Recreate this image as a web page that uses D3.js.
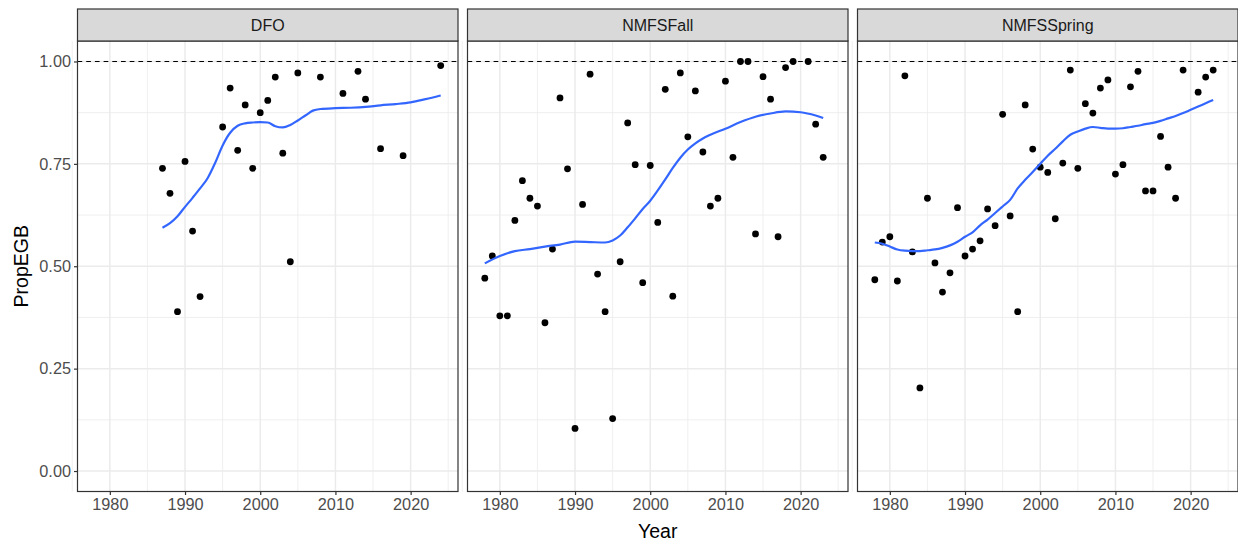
<!DOCTYPE html>
<html><head><meta charset="utf-8">
<script src="https://cdn.jsdelivr.net/npm/d3@7"></script>
<style>body{margin:0;background:#fff}svg{display:block}text{font-family:"Liberation Sans",Arial,sans-serif}</style>
</head><body>
<svg id="c" width="1238" height="544"></svg>
<script>
const panels = ["DFO", "NMFSFall", "NMFSSpring"];
const xTicks = [1980, 1990, 2000, 2010, 2020];
const yTicks = [0, 0.25, 0.5, 0.75, 1];
const yTickLabels = ["0.00", "0.25", "0.50", "0.75", "1.00"];

const dfoYears = [1987,1988,1989,1990,1991,1992,1995,1996,1997,1998,1999,2000,2001,2002,2003,2004,2005,2008,2011,2013,2014,2016,2019,2024];
const dfoValues = [0.739,0.678,0.389,0.756,0.586,0.426,0.840,0.935,0.783,0.894,0.739,0.875,0.905,0.962,0.776,0.511,0.972,0.962,0.922,0.976,0.908,0.787,0.770,0.990];

const fallYears = [1978,1979,1980,1981,1982,1983,1984,1985,1986,1987,1988,1989,1990,1991,1992,1993,1994,1995,1996,1997,1998,1999,2000,2001,2002,2003,2004,2005,2006,2007,2008,2009,2010,2011,2012,2013,2014,2015,2016,2017,2018,2019,2021,2022,2023];
const fallValues = [0.471,0.525,0.379,0.379,0.612,0.709,0.666,0.647,0.362,0.542,0.911,0.738,0.104,0.651,0.969,0.481,0.389,0.128,0.511,0.850,0.748,0.460,0.746,0.607,0.932,0.427,0.972,0.816,0.928,0.779,0.647,0.666,0.952,0.766,1.0,1.0,0.579,0.963,0.908,0.572,0.985,1.0,1.0,0.847,0.766];

const springYears = [1978,1979,1980,1981,1982,1983,1984,1985,1986,1987,1988,1989,1990,1991,1992,1993,1994,1995,1996,1997,1998,1999,2000,2001,2002,2003,2004,2005,2006,2007,2008,2009,2010,2011,2012,2013,2014,2015,2016,2017,2018,2019,2021,2022,2023];
const springValues = [0.467,0.559,0.572,0.464,0.965,0.535,0.203,0.666,0.508,0.437,0.484,0.643,0.525,0.542,0.562,0.640,0.599,0.871,0.623,0.389,0.894,0.786,0.742,0.729,0.616,0.752,0.979,0.739,0.897,0.874,0.935,0.955,0.725,0.748,0.938,0.976,0.684,0.684,0.817,0.742,0.666,0.979,0.925,0.962,0.979];

const dfoSmoothYears = [1987,1988,1989,1990,1991,1992,1993,1994,1995,1996,1997,1998,1999,2000,2001,2002,2003,2004,2005,2006,2007,2008,2010,2012,2014,2016,2018,2020,2022,2024];
const dfoSmooth = [0.594,0.605,0.622,0.645,0.667,0.690,0.715,0.752,0.795,0.826,0.843,0.849,0.851,0.852,0.851,0.842,0.839,0.845,0.856,0.868,0.880,0.884,0.886,0.887,0.889,0.893,0.896,0.900,0.908,0.917];

const fallSmoothYears = [1978,1980,1982,1984,1986,1988,1990,1992,1994,1995,1996,1997,1998,1999,2000,2001,2002,2003,2004,2005,2006,2007,2008,2010,2012,2014,2016,2018,2020,2022,2023];
const fallSmooth = [0.507,0.525,0.537,0.542,0.548,0.553,0.560,0.559,0.558,0.563,0.575,0.595,0.617,0.640,0.660,0.685,0.712,0.740,0.765,0.785,0.800,0.812,0.821,0.836,0.852,0.865,0.873,0.878,0.876,0.868,0.862];

const springSmoothYears = [1978,1979,1980,1981,1982,1983,1984,1985,1986,1987,1988,1989,1990,1991,1992,1993,1994,1995,1996,1997,1998,1999,2000,2001,2002,2003,2004,2005,2006,2007,2008,2009,2010,2011,2012,2013,2014,2015,2016,2017,2018,2019,2020,2021,2022,2023];
const springSmooth = [0.558,0.555,0.548,0.541,0.538,0.537,0.537,0.539,0.541,0.545,0.551,0.560,0.572,0.583,0.600,0.614,0.630,0.646,0.662,0.690,0.711,0.730,0.750,0.770,0.787,0.805,0.821,0.829,0.836,0.840,0.838,0.836,0.836,0.837,0.840,0.843,0.847,0.850,0.855,0.861,0.867,0.874,0.882,0.890,0.898,0.906];

const pointSets = [[dfoYears, dfoValues], [fallYears, fallValues], [springYears, springValues]];
const smoothSets = [[dfoSmoothYears, dfoSmooth], [fallSmoothYears, fallSmooth], [springSmoothYears, springSmooth]];

(function draw() {
const svg = d3.select("#c");
const panelLeft = [77.5, 467.5, 857.5];
const pw = 380.5;
const pTop = 41, pBottom = 491.5, stripTop = 9;
const tickFont = 16.3;

const x = d3.scaleLinear().domain([1975.7, 2026.3]).range([0, pw]);
const y = d3.scaleLinear().domain([-0.05, 1.05]).range([pBottom, pTop]);
const xMinor = [1975, 1985, 1995, 2005, 2015, 2025];
const yMinor = [0.125, 0.375, 0.625, 0.875];

panels.forEach((name, i) => {
  const g = svg.append("g").attr("transform", `translate(${panelLeft[i]},0)`);
  g.selectAll(".mx").data(xMinor).enter().append("line")
    .attr("x1", d => x(d)).attr("x2", d => x(d)).attr("y1", pTop).attr("y2", pBottom)
    .attr("stroke", "#EBEBEB").attr("stroke-width", 0.8);
  g.selectAll(".my").data(yMinor).enter().append("line")
    .attr("x1", 0).attr("x2", pw).attr("y1", d => y(d)).attr("y2", d => y(d))
    .attr("stroke", "#EBEBEB").attr("stroke-width", 0.8);
  g.selectAll(".gx").data(xTicks).enter().append("line")
    .attr("x1", d => x(d)).attr("x2", d => x(d)).attr("y1", pTop).attr("y2", pBottom)
    .attr("stroke", "#EBEBEB").attr("stroke-width", 1.5);
  g.selectAll(".gy").data(yTicks).enter().append("line")
    .attr("x1", 0).attr("x2", pw).attr("y1", d => y(d)).attr("y2", d => y(d))
    .attr("stroke", "#EBEBEB").attr("stroke-width", 1.5);
  g.append("line").attr("x1", 0).attr("x2", pw).attr("y1", y(1)).attr("y2", y(1))
    .attr("stroke", "#000").attr("stroke-width", 1.2).attr("stroke-dasharray", "4.7,4");
  const [yrs, vals] = pointSets[i];
  g.selectAll(".pt").data(yrs.map((d, k) => [d, vals[k]])).enter().append("circle")
    .attr("cx", d => x(d[0])).attr("cy", d => y(d[1])).attr("r", 3.4).attr("fill", "#000");
  const [sy, sv] = smoothSets[i];
  const line = d3.line().x(d => x(d[0])).y(d => y(d[1])).curve(d3.curveMonotoneX);
  g.append("path").datum(sy.map((d, k) => [d, sv[k]])).attr("d", line)
    .attr("fill", "none").attr("stroke", "#3366FF").attr("stroke-width", 2.2);
  g.append("rect").attr("x", 0).attr("y", pTop).attr("width", pw).attr("height", pBottom - pTop)
    .attr("fill", "none").attr("stroke", "#333333").attr("stroke-width", 1.2);
  g.append("rect").attr("x", 0).attr("y", stripTop).attr("width", pw).attr("height", pTop - stripTop)
    .attr("fill", "#D9D9D9").attr("stroke", "#333333").attr("stroke-width", 1.2);
  g.append("text").attr("x", pw / 2).attr("y", (stripTop + pTop) / 2 + 5.8)
    .attr("text-anchor", "middle").attr("font-size", 16).attr("fill", "#1A1A1A").text(name);
  const xa = g.append("g").attr("transform", `translate(0,${pBottom})`)
    .call(d3.axisBottom(x).tickValues(xTicks).tickFormat(d3.format("d")).tickSize(3.5).tickPadding(3));
  xa.select(".domain").remove();
  xa.selectAll("line").attr("stroke", "#333333").attr("stroke-width", 1.2);
  xa.selectAll("text").attr("font-size", tickFont).attr("fill", "#4D4D4D")
    .style("font-family", '"Liberation Sans", Arial, sans-serif');
  if (i === 0) {
    const ya = g.append("g")
      .call(d3.axisLeft(y).tickValues(yTicks).tickFormat((d, k) => yTickLabels[k]).tickSize(3.5).tickPadding(3));
    ya.select(".domain").remove();
    ya.selectAll("line").attr("stroke", "#333333").attr("stroke-width", 1.2);
    ya.selectAll("text").attr("font-size", tickFont).attr("fill", "#4D4D4D")
      .style("font-family", '"Liberation Sans", Arial, sans-serif');
  }
});

svg.append("text").attr("x", panelLeft[1] + pw / 2).attr("y", 538).attr("text-anchor", "middle")
  .attr("font-size", 19.5).attr("fill", "#000").text("Year");
svg.append("text").attr("transform", `translate(28,${(pTop + pBottom) / 2}) rotate(-90)`)
  .attr("text-anchor", "middle").attr("font-size", 19.5).attr("fill", "#000").text("PropEGB");
})();
</script>
</body></html>
